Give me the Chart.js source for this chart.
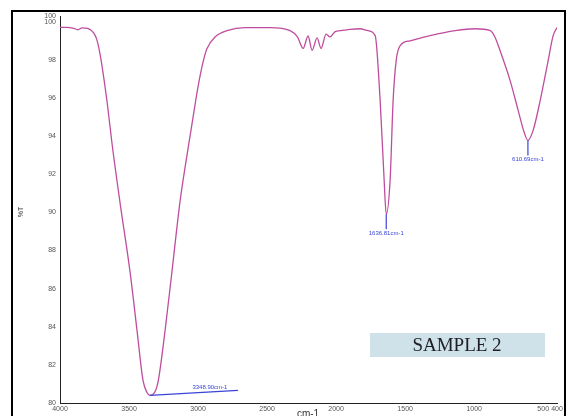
<!DOCTYPE html>
<html>
<head>
<meta charset="utf-8">
<script src="https://cdn.jsdelivr.net/npm/chart.js@4"></script>
<style>
  body { margin: 0; background: #fff; }
  canvas { display: block; }
</style>
</head>
<body>
<canvas id="irChart" width="566" height="416"></canvas>
<script>
// IR spectrum, sample 2 (wavenumber in cm-1, transmittance in %T)
const wavenumbers = [4000, 3950, 3900, 3870, 3840, 3800, 3775, 3755, 3735, 3715, 3696, 3659, 3623, 3565, 3493, 3442, 3399, 3370, 3349,
  3320, 3290, 3239, 3188, 3130, 3080, 3036, 3000, 2960, 2935, 2877, 2790, 2659, 2478, 2333, 2280, 2239, 2203, 2174, 2138, 2109,
  2073, 2044, 2007, 1971, 1900, 1826, 1768, 1717, 1681, 1652, 1637, 1609, 1587, 1565, 1536, 1464, 1319, 1138, 993, 884,
  850, 812, 739, 681, 638, 611, 573, 522, 464, 428, 400];
const transmittance = [99.7, 99.7, 99.65, 99.58, 99.68, 99.65, 99.55, 99.4, 99.1, 98.5, 97.7, 95.8, 93.6, 90.5, 86.9, 83.8, 81.2, 80.55, 80.4,
  80.5, 81.1, 83.8, 86.96, 90.6, 93.0, 95.0, 96.6, 98.0, 98.6, 99.2, 99.53, 99.69, 99.69, 99.53, 99.2, 98.6, 99.25, 98.5, 99.15, 98.6,
  99.35, 99.2, 99.48, 99.53, 99.6, 99.63, 99.53, 99.27, 95.86, 91.67, 89.9, 91.67, 95.86, 97.96, 98.74, 99.0, 99.27, 99.53, 99.63, 99.53,
  99.2, 98.48, 96.9, 95.34, 94.2, 93.77, 94.3, 95.86, 97.96, 99.27, 99.69];

// peak picks
const peakPositions = [3348.90, 1636.81, 610.69];
const peakValues = [80.4, 89.9, 93.77];
const peakLabels = ['3348.90cm-1', '1636.81cm-1', '610.69cm-1'];

const xTickValues = [4000, 3500, 3000, 2500, 2000, 1500, 1000, 500, 400];
const yTickValues = [80, 82, 84, 86, 88, 90, 92, 94, 96, 98, 100, 100.3];

const sampleName = 'SAMPLE 2';

const points = wavenumbers.map((w, i) => ({ x: w, y: transmittance[i] }));

// frame, peak markers, axis titles and sample box
const decorations = {
  id: 'decorations',
  afterDraw(chart) {
    const ctx = chart.ctx;
    const xs = chart.scales.x;
    const ys = chart.scales.y;
    ctx.save();

    ctx.strokeStyle = '#000';
    ctx.lineWidth = 2;
    ctx.beginPath();
    ctx.moveTo(12, 420);
    ctx.lineTo(12, 11);
    ctx.lineTo(565, 11);
    ctx.lineTo(565, 420);
    ctx.stroke();

    ctx.strokeStyle = '#3a44d8';
    ctx.fillStyle = '#3a44d8';
    ctx.lineWidth = 1.2;
    ctx.font = '6px "Liberation Sans", Arial, sans-serif';
    ctx.textAlign = 'center';
    ctx.textBaseline = 'top';
    peakPositions.forEach((p, i) => {
      const px = xs.getPixelForValue(p);
      const py = ys.getPixelForValue(peakValues[i]);
      ctx.beginPath();
      if (i === 0) {
        ctx.moveTo(px, py);
        ctx.lineTo(px + 88, py - 5);
        ctx.stroke();
        ctx.textBaseline = 'bottom';
        ctx.fillText(peakLabels[i], px + 60, py - 5);
        ctx.textBaseline = 'top';
      } else {
        ctx.moveTo(px, py);
        ctx.lineTo(px, py + 15);
        ctx.stroke();
        ctx.fillText(peakLabels[i], px, py + 16);
      }
    });

    ctx.fillStyle = '#333';
    ctx.font = '10px "Liberation Sans", Arial, sans-serif';
    ctx.textAlign = 'center';
    ctx.textBaseline = 'middle';
    ctx.fillText('cm-1', 308, 414);

    ctx.save();
    ctx.translate(21, 212);
    ctx.rotate(-Math.PI / 2);
    ctx.font = '7px "Liberation Sans", Arial, sans-serif';
    ctx.fillText('%T', 0, 0);
    ctx.restore();

    ctx.fillStyle = '#cfe1e9';
    ctx.fillRect(370, 333, 175, 24);
    ctx.fillStyle = '#1e1e24';
    ctx.font = '19px "Liberation Serif", "Times New Roman", serif';
    ctx.fillText(sampleName, 457, 346);

    ctx.restore();
  }
};

const ctx = document.getElementById('irChart').getContext('2d');
new Chart(ctx, {
  type: 'scatter',
  data: {
    datasets: [{
      label: sampleName,
      data: points,
      showLine: true,
      borderColor: '#bf4d9e',
      borderWidth: 1.3,
      pointRadius: 0,
      cubicInterpolationMode: 'monotone'
    }]
  },
  options: {
    responsive: false,
    animation: false,
    layout: { padding: { top: 16, right: 9, left: 0, bottom: 0 } },
    plugins: { legend: { display: false }, tooltip: { enabled: false } },
    scales: {
      x: {
        type: 'linear',
        reverse: true,
        min: 400,
        max: 4000,
        afterBuildTicks: s => { s.ticks = xTickValues.map(v => ({ value: v })); },
        afterFit: s => { s.height = 13; },
        grid: { display: false, drawTicks: true, tickLength: 2 },
        border: { color: '#222', width: 1 },
        ticks: {
          color: '#555',
          font: { size: 7, family: 'Liberation Sans' },
          padding: 0,
          maxRotation: 0,
          autoSkip: false,
          callback: v => v
        }
      },
      y: {
        min: 80,
        max: 100.3,
        afterBuildTicks: s => { s.ticks = yTickValues.map(v => ({ value: v })); },
        afterFit: s => { s.width = 60; },
        grid: { display: false, drawTicks: true, tickLength: 3 },
        border: { color: '#222', width: 1 },
        ticks: {
          color: '#555',
          font: { size: 7, family: 'Liberation Sans' },
          padding: 1,
          autoSkip: false,
          callback: v => Math.round(v)
        }
      }
    }
  },
  plugins: [decorations]
});
</script>
</body>
</html>
